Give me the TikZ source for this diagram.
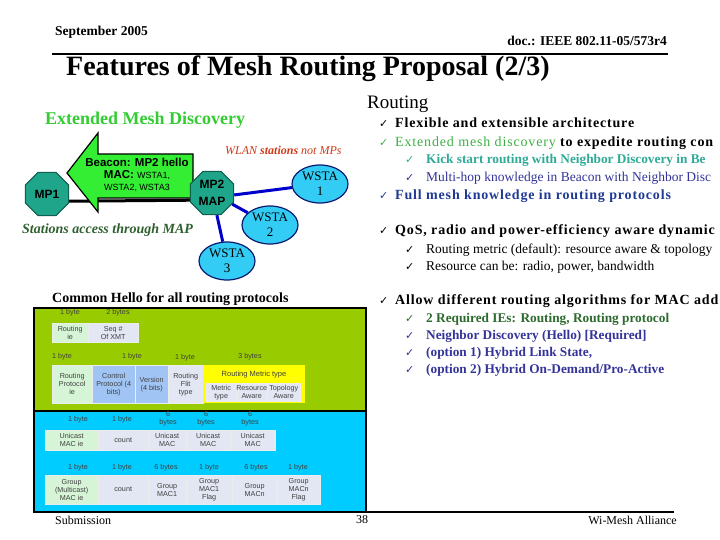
\documentclass[tikz,border=0pt]{standalone}
\usepackage{fontspec}
\usepackage{graphicx}
\setmainfont{Liberation Serif}
\newfontfamily\arialf{Liberation Sans}
\newfontfamily\djv{DejaVu Sans}
\newfontfamily\spbold[LetterSpace=6,BoldFont={Liberation Serif Bold}]{Liberation Serif}
\newcommand\fsz[2]{\fontsize{#1}{#2}\selectfont}
\usetikzlibrary{shapes.geometric,backgrounds}
\definecolor{mpteal}{HTML}{1FA68A}
\definecolor{mpdark}{HTML}{0F5E4E}
\definecolor{arrgreen}{HTML}{33EE33}
\definecolor{headgreen}{HTML}{33CC33}
\definecolor{cyanw}{HTML}{33CCF5}
\definecolor{navyw}{HTML}{0A1A70}
\definecolor{bluel}{HTML}{0000CC}
\definecolor{wlanred}{HTML}{CC3A1A}
\definecolor{accgreen}{HTML}{2F5F2F}
\definecolor{limebox}{HTML}{99CC00}
\definecolor{cyanbox}{HTML}{00CCFF}
\definecolor{cellgreen}{HTML}{D6F5D6}
\definecolor{celllav}{HTML}{E3E6F3}
\definecolor{cellblue}{HTML}{A0C4F4}
\definecolor{cellyel}{HTML}{FFFF00}
\definecolor{extgreen}{HTML}{3CB043}
\definecolor{kickteal}{HTML}{2EAA96}
\definecolor{navytxt}{HTML}{333399}
\definecolor{fullblue}{HTML}{1F3A93}
\definecolor{reqgreen}{HTML}{2D6A2D}
\tikzset{
  mpoct/.style={regular polygon, regular polygon sides=8, minimum size=47, inner sep=0pt,
    fill=mpteal, draw=mpdark, line width=1pt, font=\arialf\bfseries\fsz{12}{17}, align=center},
  wsta/.style={ellipse, minimum width=56, minimum height=38, inner sep=0pt, fill=cyanw,
    draw=navyw, line width=1.2pt, font=\fsz{13}{15}, align=center},
  blueline/.style={draw=bluel, line width=3pt},
  cell/.style={anchor=north west, inner sep=0pt, draw=white!85!gray, line width=0.4pt,
    font=\arialf\fsz{7.2}{8}, text=black!75, align=center},
  lbl/.style={font=\arialf\fsz{7.2}{8}, text=black!75, align=center, inner sep=0pt},
  chk/.style={anchor=base west, inner sep=0pt, font=\djv\fsz{11}{12}},
  lvone/.style={anchor=base west, inner sep=0pt, font=\spbold\bfseries\fsz{14}{16}},
  lvtwo/.style={anchor=base west, inner sep=0pt, font=\fsz{13.5}{15}},
  lvtwob/.style={anchor=base west, inner sep=0pt, font=\bfseries\fsz{13.3}{15}},
}
\begin{document}
\begin{tikzpicture}[x=1pt,y=-1pt]
\useasboundingbox (0,0) rectangle (720,540);
\clip (0,0) rectangle (720,540);
% header
\node[anchor=west, inner sep=0pt, font=\bfseries\fsz{13.5}{15}] (date) at (55,32) {September 2005};
\node[anchor=east, inner sep=0pt, font=\bfseries\fsz{13.5}{15}] (doc) at (667,41) {doc.: IEEE 802.11-05/573r4};
\draw[line width=2pt] (52,54) -- (668,54);
\node[anchor=west, inner sep=0pt, font=\bfseries\fsz{28}{30}] (title) at (66,69) {Features of Mesh Routing Proposal (2/3)};
% footer
\draw[line width=2pt] (33,512) -- (674,512);
\node[anchor=west, inner sep=0pt, font=\fsz{12}{14}] (sub) at (55,520) {Submission};
\node[inner sep=0pt, font=\fsz{12}{14}] (page) at (362,520) {38};
\node[anchor=east, inner sep=0pt, font=\fsz{12}{14}] (alli) at (677,520) {Wi-Mesh Alliance};

% left diagram
\node[anchor=west, inner sep=0pt, font=\bfseries\fsz{18}{20}, text=headgreen] (emd) at (45,120) {Extended Mesh Discovery};
\draw[fill=arrgreen, line width=1.2pt] (193,154) -- (98,154) -- (98,133) -- (67,173) -- (98,212) -- (98,198) -- (193,198) -- cycle;
\node[inner sep=0pt, align=center, font=\arialf\fsz{11.5}{13}] (beacon) at (137,175)
  {\bfseries Beacon: MP2 hello\\[-1pt] {\bfseries MAC:} {\fsz{9}{13}WSTA1,}\\[-1pt] {\fsz{9}{13}WSTA2, WSTA3}};
\node[mpoct] (mp1) at (47,194) {MP1};
\node[mpoct] (mp2) at (212,193) {MP2\\MAP};
\node[wsta] (w1) at (320,184) {WSTA\\1};
\node[wsta] (w2) at (270,225) {WSTA\\2};
\node[wsta] (w3) at (227,261) {WSTA\\3};
\begin{pgfonlayer}{background}
\draw[line width=3pt] (mp1.-18) -- (mp2.198);
\end{pgfonlayer}
\draw[blueline] (mp2.-5) -- (w1);
\draw[blueline] (mp2) -- (w2);
\draw[blueline] (mp2) -- (w3);
\node[anchor=west, inner sep=0pt, font=\itshape\fsz{12}{14}, text=wlanred] (wlan) at (225,150) {WLAN {\bfseries stations} not MPs};
\node[anchor=west, inner sep=0pt, font=\bfseries\itshape\fsz{14}{16}, text=accgreen] (acc) at (22,230) {Stations access through MAP};
\node[anchor=west, inner sep=0pt, font=\bfseries\fsz{14}{16}] (hello) at (52,299) {Common Hello for all routing protocols};

% green box
\node[anchor=north west, inner sep=0pt, fill=limebox, draw=black, line width=1.5pt, minimum width=332, minimum height=103] (gbox) at (33,307) {};
\node[lbl] (l1) at (70,313) {1 byte};
\node[lbl] (l2) at (118,313) {2 bytes};
\node[cell, fill=cellgreen, minimum width=36, minimum height=19] (rie) at (52,323) {Routing\\ie};
\node[cell, fill=celllav, minimum width=50, minimum height=19] (seq) at (88,323) {Seq \#\\Of XMT};
\node[lbl] (l3) at (62,357) {1 byte};
\node[lbl] (l4) at (132,357) {1 byte};
\node[lbl] (l5) at (185,358) {1 byte};
\node[lbl] (l6) at (250,357) {3 bytes};
\node[cell, fill=cellgreen, minimum width=40, minimum height=38] (rpie) at (52,365) {Routing\\Protocol\\ie};
\node[cell, fill=cellblue, minimum width=43, minimum height=38] (cp) at (92,365) {Control\\Protocol (4\\bits)};
\node[cell, fill=cellblue, minimum width=33, minimum height=38] (ver) at (135,365) {Version\\(4 bits)};
\node[cell, fill=celllav, minimum width=35, minimum height=38] (flit) at (168,365) {Routing\\Flit\\type};
\node[cell, fill=cellyel, minimum width=102, minimum height=38, draw=none] (rmt) at (203,365) {};
\node[lbl, font=\arialf\fsz{7.5}{8}] (rmtt) at (254,375) {Routing Metric type};
\node[cell, fill=celllav, minimum width=30, minimum height=18] (mt) at (206,383) {Metric\\type};
\node[cell, fill=celllav, minimum width=31, minimum height=18] (ra) at (236,383) {Resource\\Aware};
\node[cell, fill=celllav, minimum width=33, minimum height=18] (ta) at (267,383) {Topology\\Aware};

% cyan box
\node[anchor=north west, inner sep=0pt, fill=cyanbox, draw=black, line width=1.5pt, minimum width=332, minimum height=101] (cbox) at (33,410) {};
\node[lbl] (m1) at (78,420) {1 byte};
\node[lbl] (m2) at (122,420) {1 byte};
\node[lbl] (m3) at (168,419) {6\\bytes};
\node[lbl] (m4) at (206,419) {6\\bytes};
\node[lbl] (m5) at (250,419) {6\\bytes};
\node[cell, fill=cellgreen, minimum width=53, minimum height=20] (uie) at (45,430) {Unicast\\MAC ie};
\node[cell, fill=celllav, minimum width=50, minimum height=20] (cnt1) at (98,430) {count};
\node[cell, fill=celllav, minimum width=38, minimum height=20] (u1) at (148,430) {Unicast\\MAC};
\node[cell, fill=celllav, minimum width=44, minimum height=20] (u2) at (186,430) {Unicast\\MAC};
\node[cell, fill=celllav, minimum width=45, minimum height=20] (u3) at (230,430) {Unicast\\MAC};
\node[lbl] (n1) at (78,468) {1 byte};
\node[lbl] (n2) at (122,468) {1 byte};
\node[lbl] (n3) at (166,468) {6 bytes};
\node[lbl] (n4) at (209,468) {1 byte};
\node[lbl] (n5) at (256,468) {6 bytes};
\node[lbl] (n6) at (298,468) {1 byte};
\node[cell, fill=cellgreen, minimum width=53, minimum height=29] (gie) at (45,475) {Group\\(Multicast)\\MAC ie};
\node[cell, fill=celllav, minimum width=50, minimum height=29] (cnt2) at (98,475) {count};
\node[cell, fill=celllav, minimum width=38, minimum height=29] (g1) at (148,475) {Group\\MAC1};
\node[cell, fill=celllav, minimum width=46, minimum height=29] (g1f) at (186,475) {Group\\MAC1\\Flag};
\node[cell, fill=celllav, minimum width=45, minimum height=29] (gn) at (232,475) {Group\\MACn};
\node[cell, fill=celllav, minimum width=43, minimum height=29] (gnf) at (277,475) {Group\\MACn\\Flag};

% right text
\node[anchor=base west, inner sep=0pt, font=\fsz{19}{21}] (rt) at (367,109) {Routing};
\node[chk] (c1) at (379,128) {✓};
\node[lvone] (t1) at (395,128) {Flexible and extensible architecture};
\node[chk, text=extgreen] (c2) at (379,147) {✓};
\node[lvone] (t2) at (395,147) {{\mdseries\color{extgreen}Extended mesh discovery} to expedite routing con};
\node[chk, text=kickteal] (c21) at (405,164) {✓};
\node[lvtwob, text=kickteal] (t21) at (426,164) {Kick start routing with Neighbor Discovery in Be};
\node[chk, text=navytxt] (c22) at (405,182) {✓};
\node[lvtwo, text=navytxt] (t22) at (426,182) {Multi-hop knowledge in Beacon with Neighbor Disc};
\node[chk, text=fullblue] (c3) at (379,200) {✓};
\node[lvone, text=fullblue] (t3) at (395,200) {Full mesh knowledge in routing protocols};
\node[chk] (c4) at (379,235) {✓};
\node[lvone] (t4) at (395,235) {QoS, radio and power-efficiency aware dynamic};
\node[chk] (c41) at (405,253) {✓};
\node[lvtwo] (t41) at (426,253) {Routing metric (default): resource aware \& topology};
\node[chk] (c42) at (405,270) {✓};
\node[lvtwo] (t42) at (426,270) {Resource can be: radio, power, bandwidth};
\node[chk] (c5) at (379,304) {✓};
\node[lvone] (t5) at (395,304) {Allow different routing algorithms for MAC add};
\node[chk, text=reqgreen] (c51) at (405,322) {✓};
\node[lvtwob, text=reqgreen] (t51) at (426,322) {2 Required IEs: Routing, Routing protocol};
\node[chk, text=navytxt] (c52) at (405,339) {✓};
\node[lvtwob, text=navytxt] (t52) at (426,339) {Neighbor Discovery (Hello) [Required]};
\node[chk, text=navytxt] (c53) at (405,356) {✓};
\node[lvtwob, text=navytxt] (t53) at (426,356) {(option 1) Hybrid Link State,};
\node[chk, text=navytxt] (c54) at (405,373) {✓};
\node[lvtwob, text=navytxt] (t54) at (426,373) {(option 2) Hybrid On-Demand/Pro-Active};
\end{tikzpicture}
\end{document}
